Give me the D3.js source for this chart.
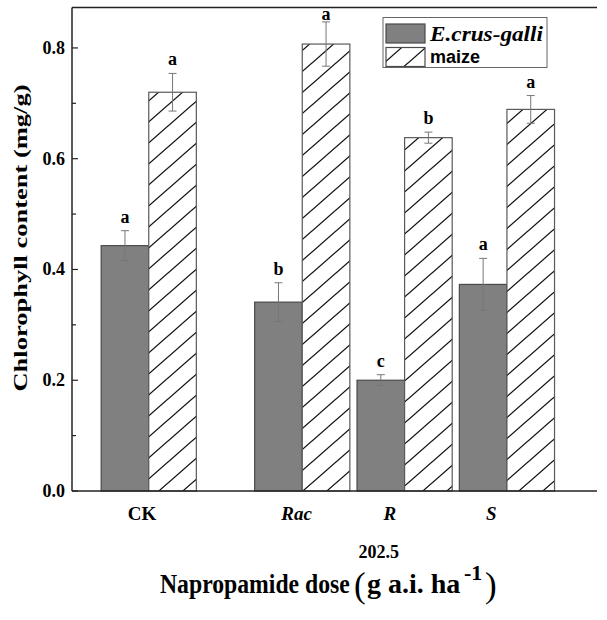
<!DOCTYPE html>
<html>
<head>
<meta charset="utf-8">
<script src="https://cdn.jsdelivr.net/npm/d3@7"></script>
<style>
  body { margin: 0; background: #fff; }
  svg { display: block; }
</style>
</head>
<body>
<div id="chart"></div>
<script>
// Datos
const groups = ["CK", "Rac", "R", "S"];
const groupPos = [0.75, 2.25, 3.25, 4.25];
const italicGroup = [false, true, true, true];
const weedValues = [0.443, 0.341, 0.200, 0.373];
const weedErrors = [0.027, 0.035, 0.010, 0.047];
const weedLetters = ["a", "b", "c", "a"];
const maizeValues = [0.720, 0.807, 0.638, 0.689];
const maizeErrors = [0.034, 0.040, 0.010, 0.025];
const maizeLetters = ["a", "a", "b", "a"];
const yTicks = [0.0, 0.2, 0.4, 0.6, 0.8];
const yMinorTicks = [0.1, 0.3, 0.5, 0.7];

// Constantes
const WIDTH = 607;
const HEIGHT = 620;
const plot = { left: 72, right: 597, top: 7.5, bottom: 491 };
const barW = 0.465;
const serif = "'Liberation Serif', 'Times New Roman', serif";
const sans = "'Liberation Sans', Arial, sans-serif";

const svg = d3.select("#chart")
  .append("svg")
  .attr("width", WIDTH)
  .attr("height", HEIGHT);

// Patrón rayado
const defs = svg.append("defs");
defs.append("pattern")
  .attr("id", "hatch")
  .attr("patternUnits", "userSpaceOnUse")
  .attr("width", 24)
  .attr("height", 21)
  .call(p => p.append("rect").attr("width", 24).attr("height", 21).attr("fill", "#fff"))
  .append("path")
  .attr("d", "M0,21L24,0M-6,5.25L6,-5.25M18,26.25L30,15.75")
  .attr("stroke", "#111")
  .attr("stroke-width", 1.3);

// Escalas
const x = d3.scaleLinear().domain([0, 5.13]).range([plot.left, plot.right]);
const y = d3.scaleLinear().domain([0, 0.873]).range([plot.bottom, plot.top]);

const rows = groups.map((g, i) => ({
  group: g, pos: groupPos[i], italic: italicGroup[i],
  weed: weedValues[i], weedErr: weedErrors[i], weedLetter: weedLetters[i],
  maize: maizeValues[i], maizeErr: maizeErrors[i], maizeLetter: maizeLetters[i]
}));

const series = [
  { key: "weed", err: "weedErr", letter: "weedLetter", offset: -barW, fill: "#808080", stroke: "#4a4a4a" },
  { key: "maize", err: "maizeErr", letter: "maizeLetter", offset: 0, fill: "url(#hatch)", stroke: "#5a5a5a" }
];

const bars = svg.append("g");
series.forEach(s => {
  const g = bars.append("g");
  g.selectAll("rect")
    .data(rows)
    .join("rect")
    .attr("x", d => x(d.pos + s.offset))
    .attr("width", d => x(d.pos + s.offset + barW) - x(d.pos + s.offset))
    .attr("y", d => y(d[s.key]))
    .attr("height", d => y(0) - y(d[s.key]))
    .attr("fill", s.fill)
    .attr("stroke", s.stroke)
    .attr("stroke-width", 1.2);

  // Barras de error
  const cx = d => x(d.pos + s.offset + barW / 2);
  g.selectAll("path.err")
    .data(rows)
    .join("path")
    .attr("class", "err")
    .attr("d", d => {
      const t = y(d[s.key] + d[s.err]), b = y(d[s.key] - d[s.err]), c = cx(d);
      return `M${c},${t}V${b}M${c - 4},${t}H${c + 4}M${c - 4},${b}H${c + 4}`;
    })
    .attr("fill", "none")
    .attr("stroke", "#777")
    .attr("stroke-width", 1);

  // Letras
  g.selectAll("text")
    .data(rows)
    .join("text")
    .attr("x", cx)
    .attr("y", d => Math.max(y(d[s.key] + d[s.err]) - 8, 20))
    .attr("text-anchor", "middle")
    .attr("font-family", serif)
    .attr("font-weight", "bold")
    .attr("font-size", 18)
    .text(d => d[s.letter]);
});

// Ejes
const axisG = svg.append("g").attr("stroke", "#222").attr("stroke-width", 1.5);
axisG.append("line").attr("x1", plot.left).attr("x2", plot.left).attr("y1", plot.top).attr("y2", plot.bottom);
axisG.append("line").attr("x1", plot.left).attr("x2", plot.right).attr("y1", plot.bottom).attr("y2", plot.bottom);
axisG.append("line").attr("x1", plot.left).attr("x2", plot.right).attr("y1", plot.top).attr("y2", plot.top);

axisG.selectAll("line.major")
  .data(yTicks)
  .join("line")
  .attr("class", "major")
  .attr("x1", plot.left).attr("x2", plot.left + 6)
  .attr("y1", d => y(d)).attr("y2", d => y(d))
  .attr("stroke-width", 1.2);
axisG.selectAll("line.minor")
  .data(yMinorTicks)
  .join("line")
  .attr("class", "minor")
  .attr("x1", plot.left).attr("x2", plot.left + 4)
  .attr("y1", d => y(d)).attr("y2", d => y(d))
  .attr("stroke-width", 1.2);

svg.append("g")
  .selectAll("text")
  .data(yTicks)
  .join("text")
  .attr("x", 65)
  .attr("y", d => y(d) + 6)
  .attr("text-anchor", "end")
  .attr("font-family", serif)
  .attr("font-weight", "bold")
  .attr("font-size", 18)
  .text(d => d.toFixed(1));

// Etiquetas x
svg.append("g")
  .selectAll("text")
  .data(rows)
  .join("text")
  .attr("x", d => x(d.pos) - 21)
  .attr("y", 520)
  .attr("font-family", serif)
  .attr("font-weight", "bold")
  .attr("font-style", d => d.italic ? "italic" : "normal")
  .attr("font-size", 19)
  .text(d => d.group);

svg.append("text")
  .attr("x", x(groupPos[2]) - 46)
  .attr("y", 558)
  .attr("font-family", serif)
  .attr("font-weight", "bold")
  .attr("font-size", 18)
  .text("202.5");

// Título eje y
svg.append("text")
  .attr("transform", "translate(27,238) rotate(-90) scale(1,0.72)")
  .attr("text-anchor", "middle")
  .attr("font-family", serif)
  .attr("font-weight", "bold")
  .attr("font-size", 26.5)
  .text("Chlorophyll content (mg/g)");

// Título eje x
const xt = svg.append("g").attr("font-family", serif).attr("font-weight", "bold");
xt.append("text").attr("transform", "translate(160,593) scale(1,1.14)")
  .attr("font-size", 23.7).text("Napropamide dose");
xt.append("text").attr("x", 354).attr("y", 597).attr("font-size", 35).attr("font-weight", "normal").text("(");
xt.append("text").attr("transform", "translate(367,593) scale(1,0.96)")
  .attr("font-size", 28).text("g a.i. ha");
xt.append("text").attr("x", 464).attr("y", 580).attr("font-size", 22).text("-1");
xt.append("text").attr("x", 485).attr("y", 597).attr("font-size", 35).attr("font-weight", "normal").text(")");

// Leyenda
const legend = svg.append("g");
legend.append("rect")
  .attr("x", 383).attr("y", 17.5).attr("width", 164).attr("height", 50)
  .attr("fill", "#fff").attr("stroke", "#666").attr("stroke-width", 1);
legend.append("rect")
  .attr("x", 386).attr("y", 24).attr("width", 39).attr("height", 19)
  .attr("fill", "#808080").attr("stroke", "#4a4a4a").attr("stroke-width", 1.2);
legend.append("rect")
  .attr("x", 386).attr("y", 47.5).attr("width", 39).attr("height", 19)
  .attr("fill", "url(#hatch)").attr("stroke", "#4a4a4a").attr("stroke-width", 1.2);
legend.append("text")
  .attr("x", 430).attr("y", 41)
  .attr("font-family", serif).attr("font-weight", "bold").attr("font-style", "italic")
  .attr("font-size", 22)
  .attr("textLength", 113).attr("lengthAdjust", "spacingAndGlyphs")
  .text("E.crus-galli");
legend.append("text")
  .attr("x", 430).attr("y", 63)
  .attr("font-family", sans).attr("font-weight", "bold")
  .attr("font-size", 18)
  .text("maize");
</script>
</body>
</html>
